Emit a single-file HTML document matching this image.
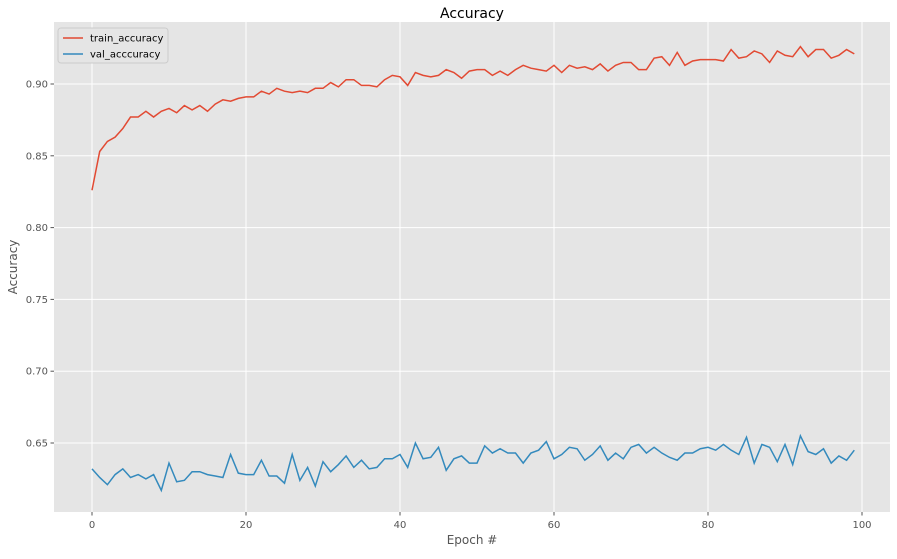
<!DOCTYPE html>
<html><head><meta charset="utf-8"><style>
body{margin:0;background:#fff;font-family:"Liberation Sans","DejaVu Sans",sans-serif}
svg text{font-family:"DejaVu Sans","Liberation Sans",sans-serif}
</style></head><body>
<svg id="c" width="897" height="554" xmlns="http://www.w3.org/2000/svg"></svg>
<script>
const epochs = Array.from({length:100},(_,i)=>i);
const trainAcc = [0.826,0.853,0.860,0.863,0.869,0.877,0.877,0.881,0.877,0.881,0.883,0.880,0.885,0.882,0.885,0.881,0.886,0.889,0.888,0.890,0.891,0.891,0.895,0.893,0.897,0.895,0.894,0.895,0.894,0.897,0.897,0.901,0.898,0.903,0.903,0.899,0.899,0.898,0.903,0.906,0.905,0.899,0.908,0.906,0.905,0.906,0.910,0.908,0.904,0.909,0.910,0.910,0.906,0.909,0.906,0.910,0.913,0.911,0.910,0.909,0.913,0.908,0.913,0.911,0.912,0.910,0.914,0.909,0.913,0.915,0.915,0.910,0.910,0.918,0.919,0.913,0.922,0.913,0.916,0.917,0.917,0.917,0.916,0.924,0.918,0.919,0.923,0.921,0.915,0.923,0.920,0.919,0.926,0.919,0.924,0.924,0.918,0.920,0.924,0.921];
const valAcc = [0.632,0.626,0.621,0.628,0.632,0.626,0.628,0.625,0.628,0.617,0.636,0.623,0.624,0.630,0.630,0.628,0.627,0.626,0.642,0.629,0.628,0.628,0.638,0.627,0.627,0.622,0.642,0.624,0.633,0.620,0.637,0.630,0.635,0.641,0.633,0.638,0.632,0.633,0.639,0.639,0.642,0.633,0.650,0.639,0.640,0.647,0.631,0.639,0.641,0.636,0.636,0.648,0.643,0.646,0.643,0.643,0.636,0.643,0.645,0.651,0.639,0.642,0.647,0.646,0.638,0.642,0.648,0.638,0.643,0.639,0.647,0.649,0.643,0.647,0.643,0.640,0.638,0.643,0.643,0.646,0.647,0.645,0.649,0.645,0.642,0.654,0.636,0.649,0.647,0.637,0.649,0.635,0.655,0.644,0.642,0.646,0.636,0.641,0.638,0.645];
const xTicks = [0,20,40,60,80,100];
const yTicks = [0.65,0.70,0.75,0.80,0.85,0.90];
const yTickLabels = ["0.65","0.70","0.75","0.80","0.85","0.90"];

const NS="http://www.w3.org/2000/svg";
const svg=document.getElementById('c');
const L=54,R=890,T=22,B=512;
const xs=v=>92+(v-0)*7.7;
const ys=v=>84+(0.90-v)*1436;
function el(tag,attrs){const e=document.createElementNS(NS,tag);for(const k in attrs)e.setAttribute(k,attrs[k]);svg.appendChild(e);return e;}

const bg=el('rect',{x:L,y:T,width:R-L,height:B-T,fill:'#e5e5e5'});



xTicks.forEach(t=>{
  const x=xs(t);
  const g=el('line',{x1:x,x2:x,y1:T,y2:B,stroke:'#fff','stroke-width':1});
  
  
  const tk=el('line',{x1:x,x2:x,y1:B,y2:B+3.5,stroke:'#555'});
  
  
  const tx=el('text',{x:x,y:B+16,'text-anchor':'middle','font-size':10,fill:'#555'});
  tx.textContent=t;
  
  
});
yTicks.forEach((t,i)=>{
  const y=ys(t);
  const g=el('line',{x1:L,x2:R,y1:y,y2:y,stroke:'#fff','stroke-width':1});
  
  
  const tk=el('line',{x1:L-3.5,x2:L,y1:y,y2:y,stroke:'#555'});
  
  
  const tx=el('text',{x:L-6,y:y+3.5,'text-anchor':'end','font-size':10,fill:'#555'});
  tx.textContent=yTickLabels[i];
  
  
});

const p1=el('polyline',{points:epochs.map((e,i)=>xs(e)+','+ys(trainAcc[i])).join(' '),fill:'none',stroke:'#e24a33','stroke-width':1.5});


const p2=el('polyline',{points:epochs.map((e,i)=>xs(e)+','+ys(valAcc[i])).join(' '),fill:'none',stroke:'#348abd','stroke-width':1.5});



const title=el('text',{x:(L+R)/2,y:18,'text-anchor':'middle','font-size':14,fill:'#000'});
title.textContent='Accuracy';


const xl=el('text',{x:(L+R)/2,y:544,'text-anchor':'middle','font-size':12,fill:'#555'});
xl.textContent='Epoch #';


const yl=el('text',{x:17,y:(T+B)/2,'text-anchor':'middle','font-size':12,fill:'#555',transform:'rotate(-90 17 '+((T+B)/2)+')'});
yl.textContent='Accuracy';



const lg=el('rect',{x:58,y:28,width:110,height:35,fill:'#e5e5e5',stroke:'#ccc','stroke-width':1,rx:3});


[['train_accuracy','#e24a33',38],['val_acccuracy','#348abd',54]].forEach(([n,c,y])=>{
  const l=el('line',{x1:63,x2:83,y1:y,y2:y,stroke:c,'stroke-width':1.5});
  
  
  const t=el('text',{x:90,y:y+3.5,'font-size':10,fill:'#000'});
  t.textContent=n;
  
  
});
</script>
</body></html>
